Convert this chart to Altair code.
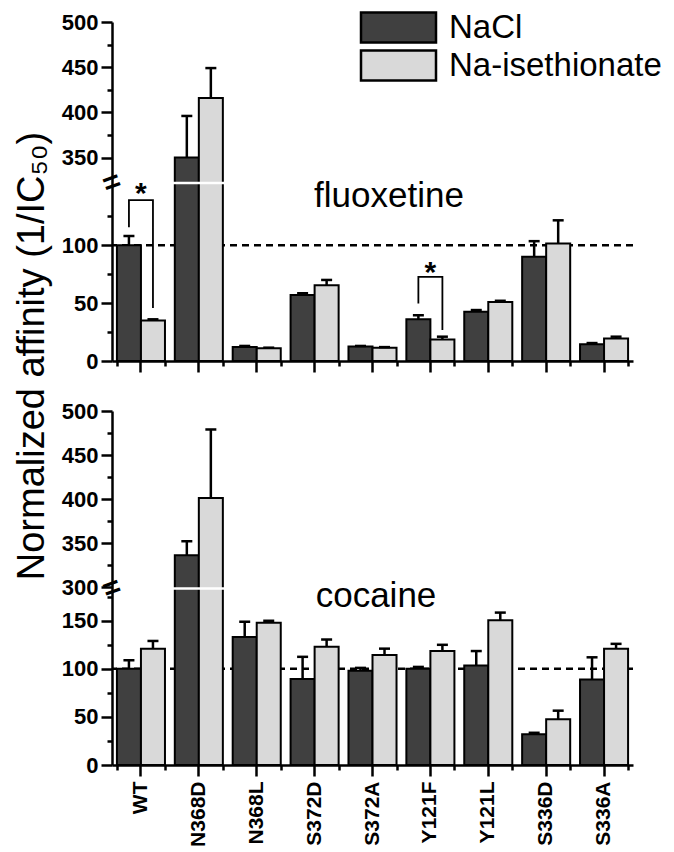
import altair as alt
import pandas as pd

FONT = "Liberation Sans"

categories = ["WT", "N368D", "N368L", "S372D", "S372A", "Y121F", "Y121L", "S336D", "S336A"]
series = ["NaCl", "Na-isethionate"]
colors = ["#404040", "#d9d9d9"]

# fluoxetine
flx_nacl = [100, 350, 12, 57, 12.5, 36, 42.5, 90, 14.5]
flx_nacl_err = [8, 46, 1, 1.5, 0.5, 3.5, 1.5, 13.5, 1]
flx_ise = [35, 416, 11, 65.5, 11.5, 18.5, 51, 101.5, 19.5]
flx_ise_err = [1, 33, 0.5, 4.5, 0.5, 2.5, 1, 20, 1.5]

# cocaine
coc_nacl = [100, 336, 133, 89.5, 98, 100, 103.5, 32, 89]
coc_nacl_err = [9, 16, 16, 23, 3, 2, 15, 1.5, 23]
coc_ise = [121, 401, 148, 123, 114.5, 118.5, 150.5, 47.5, 121]
coc_ise_err = [8, 78, 2, 7.5, 6.5, 6.5, 8, 9, 5]

# significance brackets (fluoxetine)
br_cats = ["WT", "Y121F"]
br_left = [115.5, 49.7]
br_top = [139, 72.7]
br_right = [45.7, 26.7]
star_y = [150, 82]

# axis pieces
flx_domain = [0, 152, 324, 500]
coc_domain = [0, 182, 300, 500]
flx_major = [0, 50, 100, 350, 400, 450, 500]
flx_minor = [25, 75, 125, 375, 425, 475]
coc_major = [0, 50, 100, 150, 300, 350, 400, 450, 500]
coc_minor = [25, 75, 125, 175, 325, 375, 425, 475]
reference_value = [100]

W = 521
H_TOP = 339
H_BOT = 354


def make_df(nacl, nacl_err, ise, ise_err):
    rows = []
    for i, c in enumerate(categories):
        rows.append(dict(category=c, series=series[0], value=nacl[i], upper=nacl[i] + nacl_err[i]))
        rows.append(dict(category=c, series=series[1], value=ise[i], upper=ise[i] + ise_err[i]))
    return pd.DataFrame(rows)


def panel(df, ydomain, yrange, height, major, minor, show_x_labels, legend,
          label_text, label_x, label_y, brackets=None, stars=None, title=None):
    xs = alt.Scale(paddingInner=0.17, paddingOuter=0.085)
    ys = alt.Scale(domain=ydomain, range=yrange)
    xo = alt.XOffset("series:N", sort=series, scale=alt.Scale(paddingInner=0, paddingOuter=0))
    xnone = alt.X("category:N", sort=categories, scale=xs, axis=None)
    base = alt.Chart(df)
    layers = []

    dash = alt.Chart(pd.DataFrame({"v": reference_value})).mark_rule(
        color="black", strokeWidth=2.5, strokeDash=[7, 5]
    ).encode(y=alt.Y("v:Q", scale=ys, axis=None))
    layers.append(dash)

    bars = base.mark_bar(stroke="black", strokeWidth=2).encode(
        x=alt.X("category:N", sort=categories, scale=xs,
                axis=alt.Axis(orient="bottom", tickBand="extent", tickSize=5, labels=False,
                              domain=True, ticks=True, title=None)),
        xOffset=xo,
        y=alt.Y("value:Q", scale=ys,
                axis=alt.Axis(orient="left", values=major, tickSize=11, labelPadding=3,
                              domain=True, title=None)),
        fill=alt.Fill("series:N", sort=series,
                      scale=alt.Scale(domain=series, range=colors), legend=legend),
    )
    layers.append(bars)

    brk_val = (ydomain[1] + ydomain[2]) / 2
    brk_df = pd.DataFrame({"category": ["N368D"], "v": [brk_val]})
    white = alt.Chart(brk_df).mark_tick(color="white", size=52, thickness=2.5, opacity=1).encode(
        x=xnone, y=alt.Y("v:Q", scale=ys, axis=None))
    layers.append(white)

    err = base.mark_rule(color="black", strokeWidth=2.5).encode(
        x=alt.X("category:N", sort=categories, scale=xs,
                axis=alt.Axis(orient="bottom", tickSize=11, domain=False, labels=show_x_labels,
                              labelAngle=-90, labelFontSize=21, labelPadding=5, title=None)),
        xOffset=xo,
        y=alt.Y("value:Q", scale=ys,
                axis=alt.Axis(orient="left", values=minor, tickSize=5, labels=False,
                              domain=False, title=None)),
        y2="upper:Q",
    )
    layers.append(err)

    caps = base.mark_tick(color="black", size=11, thickness=2.5, opacity=1).encode(
        x=xnone, xOffset=xo, y=alt.Y("upper:Q", scale=ys, axis=None))
    layers.append(caps)

    if brackets is not None:
        bl = alt.Chart(brackets).mark_line(color="black", strokeWidth=1.8).encode(
            x=xnone, xOffset=xo, y=alt.Y("v:Q", scale=ys, axis=None),
            detail="grp:N", order="idx:Q")
        layers.append(bl)
    if stars is not None:
        st = alt.Chart(stars).mark_text(text="*", fontSize=30, fontWeight="bold", font=FONT,
                                        baseline="middle", dy=7, color="black").encode(
            x=xnone, y=alt.Y("v:Q", scale=ys, axis=None))
        layers.append(st)

    sym = alt.Chart(pd.DataFrame({"v": [brk_val]})).mark_text(
        text="=", fontSize=30, fontWeight="bold", font=FONT, angle=340, color="black",
        baseline="middle").encode(x=alt.value(0), y=alt.Y("v:Q", scale=ys, axis=None))
    layers.append(sym)

    lab = alt.Chart(pd.DataFrame({"t": [label_text]})).mark_text(
        fontSize=35, font=FONT, color="black", baseline="alphabetic", align="center"
    ).encode(x=alt.value(label_x), y=alt.value(label_y), text="t:N")
    layers.append(lab)

    if title is not None:
        tt = alt.Chart(pd.DataFrame({"t": [title]})).mark_text(
            fontSize=38, font=FONT, angle=270, color="black", baseline="middle", align="center"
        ).encode(x=alt.value(-79), y=alt.value(334), text="t:N")
        layers.append(tt)

    return alt.layer(*layers).resolve_axis(x="independent", y="independent").properties(
        width=W, height=height)


flx_df = make_df(flx_nacl, flx_nacl_err, flx_ise, flx_ise_err)
coc_df = make_df(coc_nacl, coc_nacl_err, coc_ise, coc_ise_err)

br_rows = []
for g, c in enumerate(br_cats):
    pts = [(series[0], br_left[g]), (series[0], br_top[g]), (series[1], br_top[g]), (series[1], br_right[g])]
    for k, (s, v) in enumerate(pts):
        br_rows.append(dict(category=c, series=s, v=v, idx=k, grp=g))
br_df = pd.DataFrame(br_rows)
star_df = pd.DataFrame({"category": br_cats, "v": star_y})

legend = alt.Legend(orient="none", legendX=270, legendY=-11, title=None,
                    symbolType="M-2.5,-1H2.5V1H-2.5Z", symbolSize=900,
                    symbolStrokeColor="black", symbolStrokeWidth=2.5,
                    labelFontSize=33, labelFont=FONT, labelColor="black", labelLimit=0,
                    labelOffset=34, rowPadding=-3, padding=0)

top = panel(flx_df, flx_domain, [H_TOP, 163, 159, 0], H_TOP, flx_major, flx_minor,
            False, legend, "fluoxetine", 277, 185, brackets=br_df, stars=star_df,
            title="Normalized affinity (1/IC\u2085\u2080)")
bot = panel(coc_df, coc_domain, [H_BOT, 179, 176, 0], H_BOT, coc_major, coc_minor,
            True, None, "cocaine", 264, 196)

chart = alt.vconcat(top, bot, spacing=50, bounds="flush",
                    padding={"left": 6, "top": 3, "right": 0, "bottom": 5}).resolve_scale(
    y="independent").resolve_legend(fill="independent").configure_view(
    stroke=None).configure_axis(
    labelFont=FONT, labelFontSize=22, labelFontWeight="bold", labelColor="black",
    tickColor="black", domainColor="black", domainWidth=2.5, tickWidth=2.5, grid=False)

chart.save("out.html", embed_options={"renderer": "svg", "actions": False})
